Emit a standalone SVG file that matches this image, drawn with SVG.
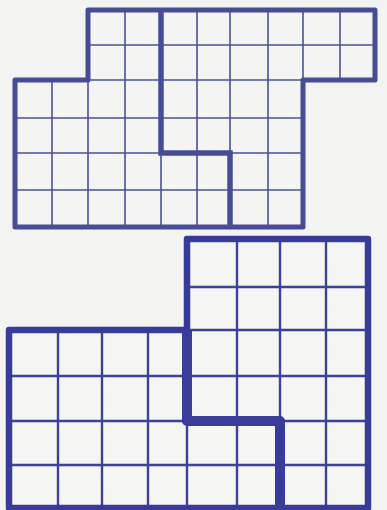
<svg xmlns="http://www.w3.org/2000/svg" width="387" height="510" viewBox="0 0 387 510">
<style>
.t1{stroke:#4b5196;fill:none;stroke-width:1.6}
.o1{stroke:#474d95;fill:none;stroke-width:5;stroke-linejoin:round}
.d1{stroke:#474d95;fill:none;stroke-width:5.5;stroke-linejoin:miter}
.t2{stroke:#3d4199;fill:none;stroke-width:2.4}
.o2{stroke:#383c98;fill:none;stroke-width:6.5;stroke-linejoin:round}
.d2{stroke:#383c98;fill:none;stroke-width:10;stroke-linejoin:round}
</style>
<rect width="387" height="510" fill="#f3f3f1"/>
<g id="grid-top">
<path d="M88,10 H375 V80 H303 V227 H15 V80 H88 Z" fill="#f4f4f2" stroke="none"/>
<g class="t1">
<path d="M88,45 H375 M88,80 H303 M15,118 H303 M15,153 H303 M15,190 H303"/>
<path d="M52,80 V227 M88,80 V227 M125,10 V227 M161,153 V227 M197,10 V227 M230,10 V153 M268,10 V227 M303,10 V80 M340,10 V80"/>
</g>
<path class="o1" d="M88,10 H375 V80 H303 V227 H15 V80 H88 Z"/>
<path class="d1" d="M161,10 V153 H230 V227"/>
</g>
<g id="grid-bottom">
<path d="M187,239 H368 V509 H9 V330 H187 Z" fill="#f5f5f3" stroke="none"/>
<g class="t2">
<path d="M187,287 H368 M9,376 H368 M9,421 H368 M9,465 H368"/>
<path d="M58,330 V510 M102,330 V510 M148,330 V510 M237,239 V510 M326,239 V510 M280,239 V421"/>
<path d="M187,421 V510 M9,330 H368"/>
</g>
<path class="o2" d="M187,239 H368 V508 H9 V330 H187 Z"/>
<path class="d2" d="M187,330 V421 H280 V510"/>
</g>
</svg>
